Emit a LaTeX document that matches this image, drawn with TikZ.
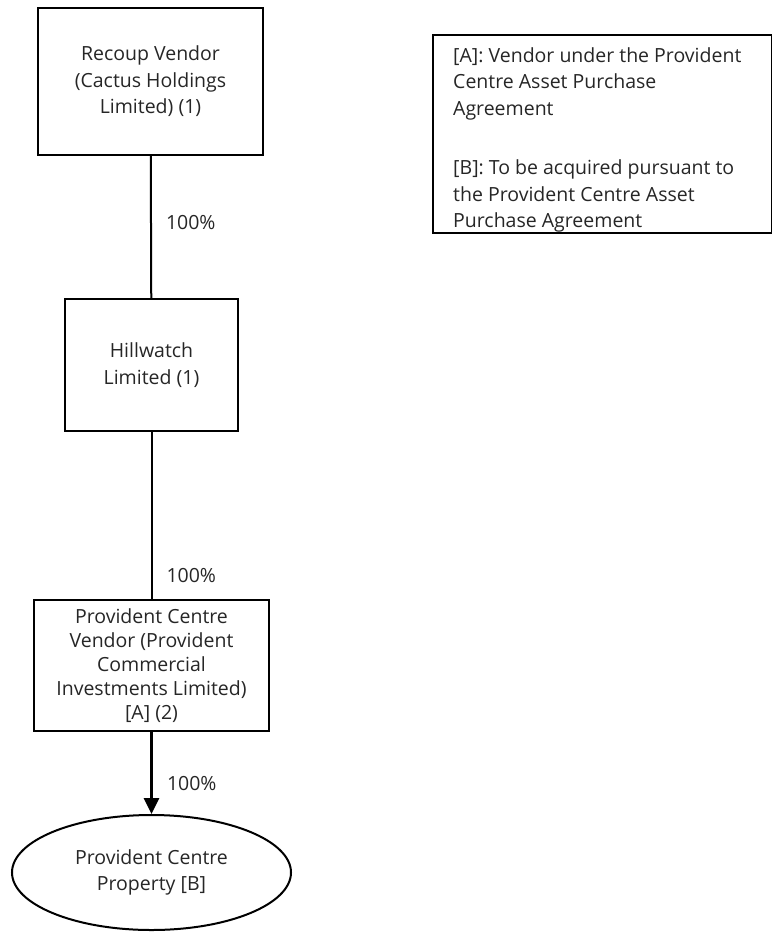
\documentclass[tikz,border=0pt]{standalone}
\usepackage{fontspec}
\setmainfont{Open Sans}
\usepackage{tikz}
\usetikzlibrary{arrows.meta, shapes.geometric}

\begin{document}
\begin{tikzpicture}[x=1pt, y=-1pt,
	every node/.style={font=\fontsize{19.5}{26.5}\selectfont, text=black!85},
	entity/.style={draw, line width=2pt, align=center, inner sep=0pt},
	pct/.style={right, inner sep=0pt, xshift=14pt}]
	\useasboundingbox (0,0) rectangle (771,939);

	% 持股结构
	\node[entity, minimum width=225pt, minimum height=147pt] (recoup) at (150.5,81.5) {Recoup Vendor\\(Cactus Holdings\\Limited) (1)};
	\node[entity, minimum width=173pt, minimum height=132pt] (hill) at (151.5,365) {Hillwatch\\Limited (1)};
	\node[entity, minimum width=235pt, minimum height=131pt, font=\fontsize{19.5}{24}\selectfont] (pcv) at (151.5,665.5) {Provident Centre\\Vendor (Provident\\Commercial\\Investments Limited)\\{[A]} (2)};
	\node[entity, ellipse, minimum width=279pt, minimum height=115pt] (prop) at (151.5,872.5) {Provident Centre\\Property [B]};

	\draw[line width=2pt] (recoup) -- (hill) node[pct, pos=0.47] {100\%};
	\draw[line width=2pt] (hill) -- (pcv) node[pct, pos=0.86] {100\%};
	\draw[line width=3pt, -{Triangle[length=16pt, width=15pt]}] (pcv) -- (prop) node[pct, pos=0.63] {100\%};

	% 注释框
	\draw[line width=2pt] (432.5,35.5) rectangle (772,232.5);
	\node[align=left, anchor=north west, inner sep=0pt] (legend) at (453,47) {[A]: Vendor under the Provident\\Centre Asset Purchase\\Agreement\\[33pt]{[B]}: To be acquired pursuant to\\the Provident Centre Asset\\Purchase Agreement};
\end{tikzpicture}
\end{document}
